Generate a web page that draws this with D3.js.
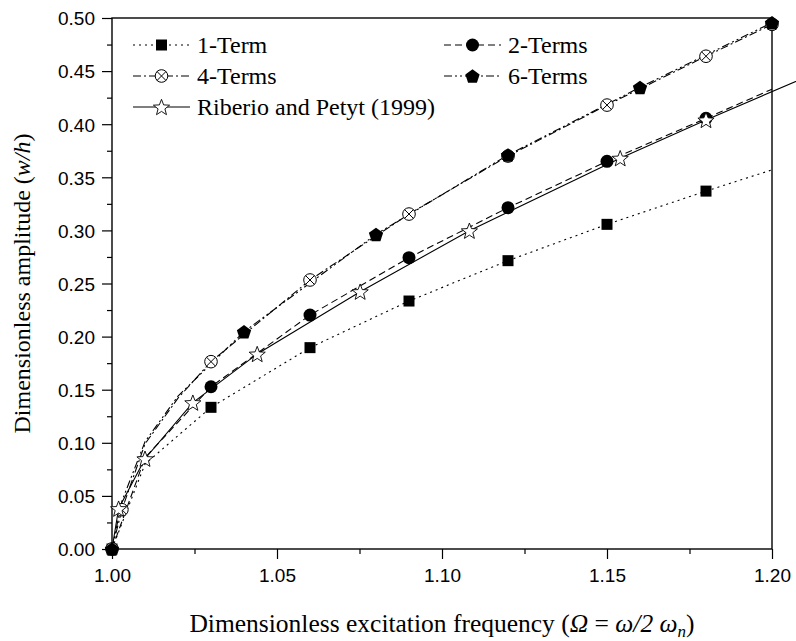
<!DOCTYPE html>
<html><head><meta charset="utf-8">
<script src="https://cdn.jsdelivr.net/npm/d3@7"></script>
<style>body{margin:0;background:#fff;} svg{display:block;}</style>
</head><body>
<svg id="chart" width="796" height="641"></svg>
<script>
// ---- data ----
const xTicks = [1.00, 1.05, 1.10, 1.15, 1.20];
const yTicks = [0.00, 0.05, 0.10, 0.15, 0.20, 0.25, 0.30, 0.35, 0.40, 0.45, 0.50];
const xMinor = [1.025, 1.075, 1.125, 1.175];
const yMinor = [0.025, 0.075, 0.125, 0.175, 0.225, 0.275, 0.325, 0.375, 0.425, 0.475];

const term1X = [1.00, 1.01, 1.03, 1.06, 1.09, 1.12, 1.15, 1.18, 1.20];
const term1Y = [0.000, 0.080, 0.1334, 0.1896, 0.2335, 0.2715, 0.3057, 0.337, 0.357];
const term1Mark = [1, 0, 1, 1, 1, 1, 1, 1, 0];

const term2X = [1.00, 1.01, 1.03, 1.06, 1.09, 1.12, 1.15, 1.18, 1.20];
const term2Y = [0.000, 0.086, 0.1528, 0.2203, 0.2743, 0.3214, 0.365, 0.4055, 0.433];
const term2Mark = [1, 0, 1, 1, 1, 1, 1, 1, 0];

const term4X = [1.00, 1.003, 1.01, 1.02, 1.03, 1.06, 1.09, 1.12, 1.15, 1.18, 1.20];
const term4Y = [0.000, 0.037, 0.099, 0.142, 0.1764, 0.2533, 0.3154, 0.370, 0.418, 0.464, 0.494];
const term4Mark = [1, 1, 0, 0, 1, 1, 1, 1, 1, 1, 1];

const term6X = [1.00, 1.003, 1.01, 1.02, 1.04, 1.08, 1.12, 1.16, 1.20];
const term6Y = [0.000, 0.045, 0.101, 0.144, 0.2046, 0.2963, 0.371, 0.4347, 0.4956];
const term6Mark = [1, 0, 0, 0, 1, 1, 1, 1, 1];

const ribX = [1.00, 1.002, 1.010, 1.0245, 1.044, 1.0752, 1.1083, 1.154, 1.18, 1.21];
const ribY = [0.000, 0.038, 0.085, 0.1378, 0.1836, 0.2423, 0.2997, 0.368, 0.404, 0.444];
const ribMark = [0, 1, 1, 1, 1, 1, 1, 1, 1, 0];

const seriesNames = ["1-Term", "2-Terms", "4-Terms", "6-Terms", "Riberio and Petyt (1999)"];

// ---- layout ----
const svg = d3.select("#chart");
const L = 112, R = 772, T = 18, B = 549;
const x = d3.scaleLinear().domain([1.00, 1.20]).range([L, R]);
const y = d3.scaleLinear().domain([0, 0.5]).range([B, T]);

const styles = {
  "1-Term": {dash: "2,4", marker: "square"},
  "2-Terms": {dash: "7,4", marker: "circle"},
  "4-Terms": {dash: "8,3,2,3", marker: "otimes"},
  "6-Terms": {dash: "8,3,2,3,2,3", marker: "pentagon"},
  "Riberio and Petyt (1999)": {dash: null, marker: "star"}
};
const seriesData = [
  {name: seriesNames[0], xs: term1X, ys: term1Y, mk: term1Mark},
  {name: seriesNames[1], xs: term2X, ys: term2Y, mk: term2Mark},
  {name: seriesNames[2], xs: term4X, ys: term4Y, mk: term4Mark},
  {name: seriesNames[3], xs: term6X, ys: term6Y, mk: term6Mark},
  {name: seriesNames[4], xs: ribX, ys: ribY, mk: ribMark}
];

function drawMarker(g, type, cx, cy) {
  if (type === "square") {
    g.append("rect").attr("x", cx - 5.5).attr("y", cy - 5.5).attr("width", 11).attr("height", 11).attr("fill", "#000");
  } else if (type === "circle") {
    g.append("circle").attr("cx", cx).attr("cy", cy).attr("r", 6.5).attr("fill", "#000");
  } else if (type === "otimes") {
    g.append("circle").attr("cx", cx).attr("cy", cy).attr("r", 6.3).attr("fill", "#fff").attr("stroke", "#000").attr("stroke-width", 1);
    const d = 6.3 * Math.SQRT1_2;
    g.append("path").attr("d", `M${cx-d},${cy-d}L${cx+d},${cy+d}M${cx-d},${cy+d}L${cx+d},${cy-d}`).attr("stroke", "#000").attr("stroke-width", 1);
  } else if (type === "pentagon") {
    const r = 7.5, pts = [];
    for (let i = 0; i < 5; i++) { const a = -Math.PI/2 + i*2*Math.PI/5; pts.push([cx + r*Math.cos(a), cy + r*Math.sin(a) + 0.8]); }
    g.append("polygon").attr("points", pts.map(p => p.join(",")).join(" ")).attr("fill", "#000");
  } else if (type === "star") {
    const ro = 8.5, ri = 3.6, pts = [];
    for (let i = 0; i < 10; i++) { const a = -Math.PI/2 + i*Math.PI/5; const r = i % 2 ? ri : ro; pts.push([cx + r*Math.cos(a), cy + r*Math.sin(a) + 0.8]); }
    g.append("polygon").attr("points", pts.map(p => p.join(",")).join(" ")).attr("fill", "#fff").attr("stroke", "#000").attr("stroke-width", 0.9);
  }
}

// ---- axes ----
const sans = "'Liberation Sans', Arial, sans-serif";
const serif = "'Liberation Serif', 'Times New Roman', serif";

const xAxis = svg.append("g").attr("transform", `translate(0,${B})`)
  .call(d3.axisBottom(x).tickValues(xTicks).tickSize(10).tickPadding(10).tickFormat(d3.format(".2f")));
const xAxisMinor = svg.append("g").attr("transform", `translate(0,${B})`)
  .call(d3.axisBottom(x).tickValues(xMinor).tickSize(5).tickFormat(""));
const yAxis = svg.append("g").attr("transform", `translate(${L},0)`)
  .call(d3.axisLeft(y).tickValues(yTicks).tickSize(10).tickPadding(7).tickFormat(d3.format(".2f")));
const yAxisMinor = svg.append("g").attr("transform", `translate(${L},0)`)
  .call(d3.axisLeft(y).tickValues(yMinor).tickSize(5).tickFormat(""));
[xAxis, xAxisMinor, yAxis, yAxisMinor].forEach(a => {
  a.select(".domain").remove();
  a.selectAll("line").attr("stroke", "#000").attr("stroke-width", 1.2);
  a.selectAll("text").attr("font-family", sans).attr("font-size", 19).attr("fill", "#000");
});
yAxis.selectAll("text").attr("dy", "0.36em");

// frame
svg.append("rect").attr("x", L).attr("y", T).attr("width", R - L).attr("height", B - T)
  .attr("fill", "none").attr("stroke", "#000").attr("stroke-width", 1.4);

// ---- lines ----
const lineGen = d3.line().x(d => x(d[0])).y(d => y(d[1]));
seriesData.forEach(s => {
  const pts = s.xs.map((v, i) => [v, s.ys[i]]);
  svg.append("path").attr("d", lineGen(pts)).attr("fill", "none").attr("stroke", "#000")
    .attr("stroke-width", 1.1).attr("stroke-dasharray", styles[s.name].dash);
});
// markers
seriesData.forEach(s => {
  const g = svg.append("g");
  s.xs.forEach((v, i) => { if (s.mk[i]) drawMarker(g, styles[s.name].marker, x(v), y(s.ys[i])); });
});

// ---- legend ----
const legendPos = [
  {name: seriesNames[0], lx: 133, ly: 45},
  {name: seriesNames[1], lx: 444, ly: 45},
  {name: seriesNames[2], lx: 133, ly: 76},
  {name: seriesNames[3], lx: 444, ly: 76},
  {name: seriesNames[4], lx: 133, ly: 107}
];
legendPos.forEach(p => {
  const g = svg.append("g");
  g.append("line").attr("x1", p.lx).attr("x2", p.lx + 57).attr("y1", p.ly).attr("y2", p.ly)
    .attr("stroke", "#000").attr("stroke-width", 1.1).attr("stroke-dasharray", styles[p.name].dash);
  drawMarker(g, styles[p.name].marker, p.lx + 28.5, p.ly);
  g.append("text").attr("x", p.lx + 64).attr("y", p.ly + 8).attr("font-family", serif)
    .attr("font-size", 24).attr("fill", "#000").text(p.name);
});

// ---- axis titles ----
const xt = svg.append("text").attr("x", (L + R) / 2).attr("y", 632).attr("text-anchor", "middle")
  .attr("font-family", serif).attr("font-size", 25.5).attr("fill", "#000");
xt.append("tspan").text("Dimensionless excitation frequency (");
xt.append("tspan").attr("font-style", "italic").text("Ω");
xt.append("tspan").text(" = ");
xt.append("tspan").attr("font-style", "italic").text("ω/2 ω");
xt.append("tspan").attr("font-style", "italic").attr("font-size", 17).attr("dy", 5).text("n");
xt.append("tspan").attr("dy", -5).text(")");

const yt = svg.append("text").attr("transform", `translate(30,${(T + B) / 2}) rotate(-90)`)
  .attr("text-anchor", "middle").attr("font-family", serif).attr("font-size", 24).attr("fill", "#000");
yt.append("tspan").text("Dimensionless amplitude (");
yt.append("tspan").attr("font-style", "italic").text("w/h");
yt.append("tspan").text(")");
</script>
</body></html>
